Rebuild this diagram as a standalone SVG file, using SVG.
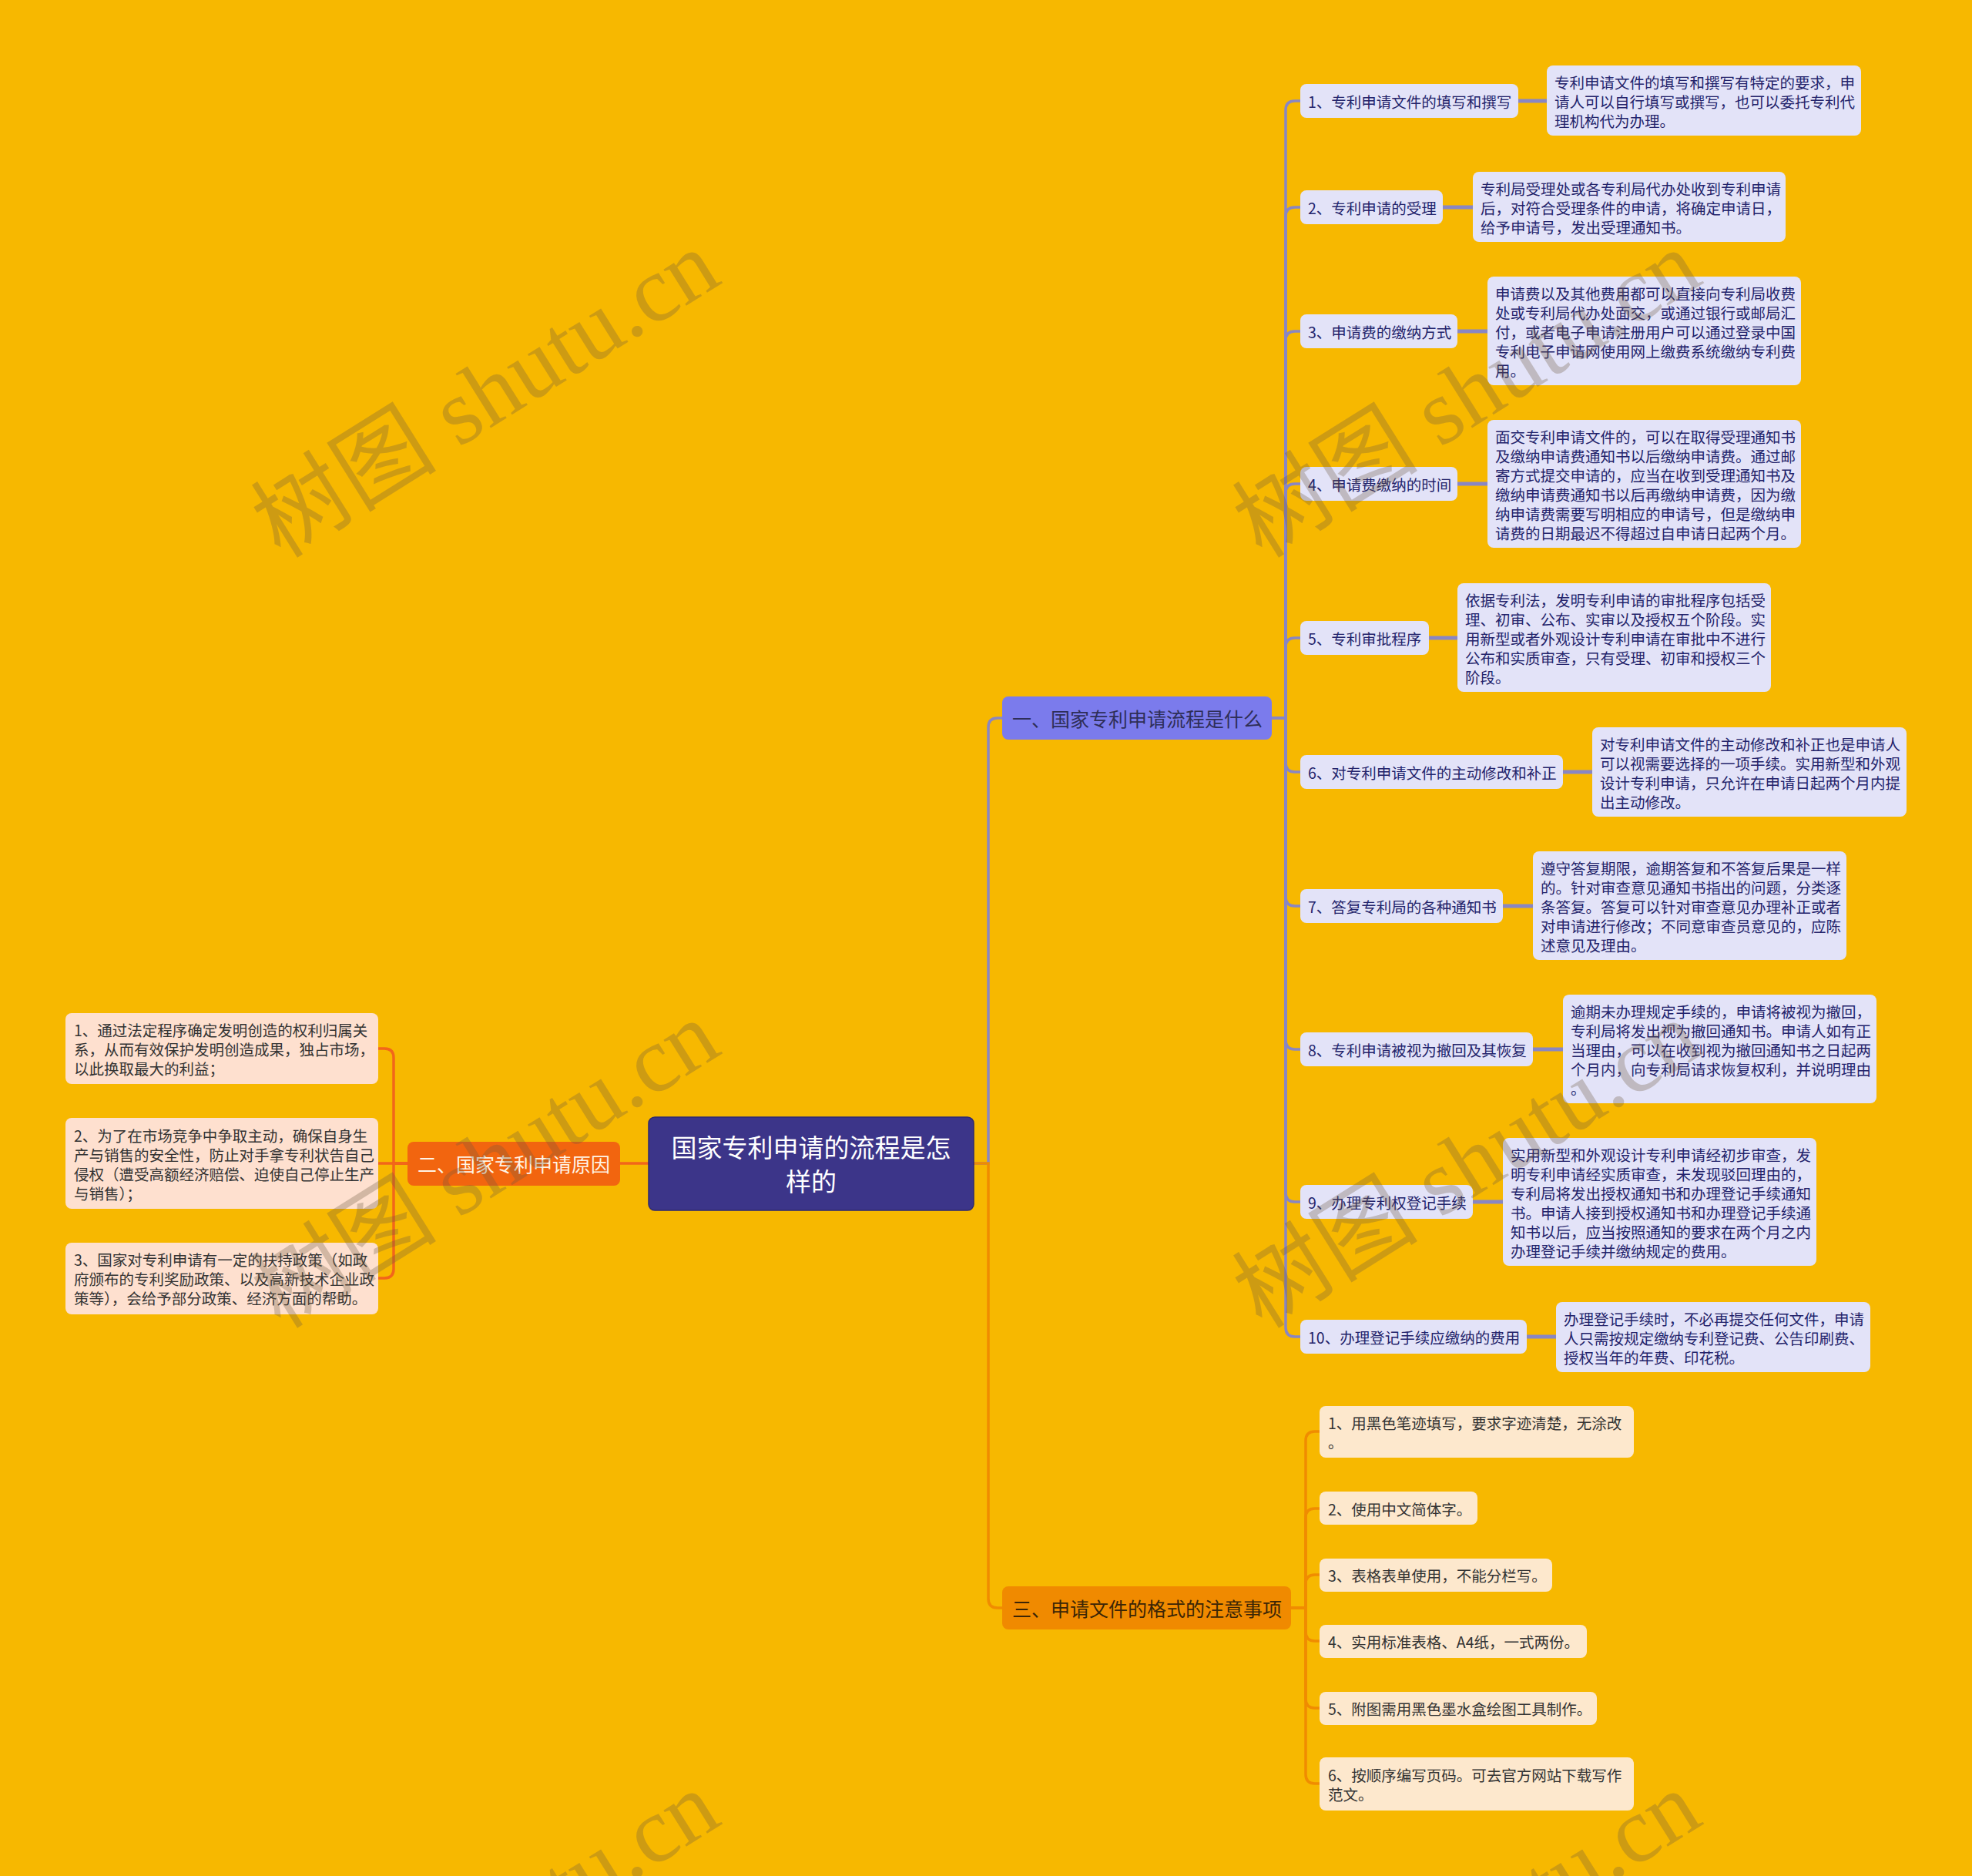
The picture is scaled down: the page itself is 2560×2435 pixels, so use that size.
<svg xmlns="http://www.w3.org/2000/svg" width="2560" height="2435" viewBox="0 0 2560 2435">
<style>
text{font-family:"Noto Sans CJK SC","Noto Sans",sans-serif;dominant-baseline:central}
.t19{font-size:19.5px}
.p{fill:#E3E3F8}
.pt{fill:#23236B}
.l{fill:#FEE0CF}
.lt{fill:#333333}
.c{fill:#FDE8CD}
.ct{fill:#333333}
.cp{fill:none;stroke:#8986C3;stroke-width:3.5;stroke-linecap:round}
.cpd{fill:none;stroke:#8986C3;stroke-width:5}
.co{fill:none;stroke:#F08C00;stroke-width:3.5;stroke-linecap:round}
.cr{fill:none;stroke:#F2661A;stroke-width:3.5;stroke-linecap:round}
.wm{font-family:"Liberation Serif","Noto Sans CJK SC",serif;font-size:121px;fill:#6E5A40;fill-opacity:0.3;dominant-baseline:alphabetic}
</style>
<rect width="2560" height="2435" fill="#F7B800"/>

<g id="connectors">
<path class="cp" d="M1264,1510 H1283 V944 Q1283,932 1295,932 H1301"/>
<path class="co" d="M1264,1510 H1283 V2075 Q1283,2087 1295,2087 H1301"/>
<path class="cr" d="M842,1510 H805"/>
<path class="cp" d="M1651,932 H1669 V143 Q1669,131 1681,131 H1688"/>
<path class="cp" d="M1651,932 H1669 V281 Q1669,269 1681,269 H1688"/>
<path class="cp" d="M1651,932 H1669 V442 Q1669,430 1681,430 H1688"/>
<path class="cp" d="M1651,932 H1669 V640 Q1669,628 1681,628 H1688"/>
<path class="cp" d="M1651,932 H1669 V840 Q1669,828 1681,828 H1688"/>
<path class="cp" d="M1651,932 H1669 V990 Q1669,1002 1681,1002 H1688"/>
<path class="cp" d="M1651,932 H1669 V1164 Q1669,1176 1681,1176 H1688"/>
<path class="cp" d="M1651,932 H1669 V1350 Q1669,1362 1681,1362 H1688"/>
<path class="cp" d="M1651,932 H1669 V1548 Q1669,1560 1681,1560 H1688"/>
<path class="cp" d="M1651,932 H1669 V1723 Q1669,1735 1681,1735 H1688"/>
<path class="cpd" d="M1971,131 H2008"/>
<path class="cpd" d="M1873,269 H1912"/>
<path class="cpd" d="M1892,430 H1931"/>
<path class="cpd" d="M1892,628 H1931"/>
<path class="cpd" d="M1855,828 H1892"/>
<path class="cpd" d="M2029,1002 H2067"/>
<path class="cpd" d="M1951,1176 H1990"/>
<path class="cpd" d="M1990,1362 H2029"/>
<path class="cpd" d="M1912,1560 H1951"/>
<path class="cpd" d="M1982,1735 H2020"/>
<path class="cr" d="M529,1510 H511 V1373 Q511,1361 499,1361 H491"/>
<path class="cr" d="M529,1510 H491"/>
<path class="cr" d="M529,1510 H511 V1647 Q511,1659 499,1659 H491"/>
<path class="co" d="M1676,2087 H1695 V1870 Q1695,1858 1707,1858 H1713"/>
<path class="co" d="M1676,2087 H1695 V1970 Q1695,1958 1707,1958 H1713"/>
<path class="co" d="M1676,2087 H1695 V2056 Q1695,2044 1707,2044 H1713"/>
<path class="co" d="M1676,2087 H1695 V2118 Q1695,2130 1707,2130 H1713"/>
<path class="co" d="M1676,2087 H1695 V2205 Q1695,2217 1707,2217 H1713"/>
<path class="co" d="M1676,2087 H1695 V2303 Q1695,2315 1707,2315 H1713"/>
</g>

<g id="root">
<rect x="842" y="1450" width="422" height="121" rx="8" fill="#3C3589" stroke="#2E2970" stroke-width="1.5"/>
<text x="1053" y="1488" font-size="33" fill="#FFFFFF" text-anchor="middle">国家专利申请的流程是怎</text>
<text x="1053" y="1532" font-size="33" fill="#FFFFFF" text-anchor="middle">样的</text>
</g>

<g id="branch1">
<rect x="1301" y="904" width="350" height="56" rx="8" fill="#7B7BEC"/>
<text x="1314" y="932" font-size="25" fill="#2E2E58">一、国家专利申请流程是什么</text>
</g>
<g id="branch2">
<rect x="529" y="1482" width="276" height="57" rx="8" fill="#F2650F"/>
<text x="542" y="1510" font-size="25" fill="#FFF4E6">二、国家专利申请原因</text>
</g>
<g id="branch3">
<rect x="1301" y="2059" width="375" height="56" rx="8" fill="#F08A00"/>
<text x="1314" y="2087" font-size="25" fill="#3B2506">三、申请文件的格式的注意事项</text>
</g>

<g id="n1-1"><rect class="p" x="1688" y="109" width="283" height="44" rx="8"/><text class="t19 pt" x="1698" y="131">1、专利申请文件的填写和撰写</text></g>
<g id="d1-1"><rect class="p" x="2008" y="85" width="408" height="91" rx="8"/>
<text class="t19 pt" x="2018" y="106">专利申请文件的填写和撰写有特定的要求，申</text>
<text class="t19 pt" x="2018" y="131">请人可以自行填写或撰写，也可以委托专利代</text>
<text class="t19 pt" x="2018" y="156">理机构代为办理。</text></g>

<g id="n1-2"><rect class="p" x="1688" y="247" width="185" height="44" rx="8"/><text class="t19 pt" x="1698" y="269">2、专利申请的受理</text></g>
<g id="d1-2"><rect class="p" x="1912" y="223" width="406" height="91" rx="8"/>
<text class="t19 pt" x="1922" y="244">专利局受理处或各专利局代办处收到专利申请</text>
<text class="t19 pt" x="1922" y="269">后，对符合受理条件的申请，将确定申请日，</text>
<text class="t19 pt" x="1922" y="294">给予申请号，发出受理通知书。</text></g>

<g id="n1-3"><rect class="p" x="1688" y="408" width="204" height="44" rx="8"/><text class="t19 pt" x="1698" y="430">3、申请费的缴纳方式</text></g>
<g id="d1-3"><rect class="p" x="1931" y="359" width="407" height="141" rx="8"/>
<text class="t19 pt" x="1941" y="380">申请费以及其他费用都可以直接向专利局收费</text>
<text class="t19 pt" x="1941" y="405">处或专利局代办处面交，或通过银行或邮局汇</text>
<text class="t19 pt" x="1941" y="430">付，或者电子申请注册用户可以通过登录中国</text>
<text class="t19 pt" x="1941" y="455">专利电子申请网使用网上缴费系统缴纳专利费</text>
<text class="t19 pt" x="1941" y="480">用。</text></g>

<g id="n1-4"><rect class="p" x="1688" y="606" width="204" height="44" rx="8"/><text class="t19 pt" x="1698" y="628">4、申请费缴纳的时间</text></g>
<g id="d1-4"><rect class="p" x="1931" y="545" width="407" height="166" rx="8"/>
<text class="t19 pt" x="1941" y="566">面交专利申请文件的，可以在取得受理通知书</text>
<text class="t19 pt" x="1941" y="591">及缴纳申请费通知书以后缴纳申请费。通过邮</text>
<text class="t19 pt" x="1941" y="616">寄方式提交申请的，应当在收到受理通知书及</text>
<text class="t19 pt" x="1941" y="641">缴纳申请费通知书以后再缴纳申请费，因为缴</text>
<text class="t19 pt" x="1941" y="666">纳申请费需要写明相应的申请号，但是缴纳申</text>
<text class="t19 pt" x="1941" y="691">请费的日期最迟不得超过自申请日起两个月。</text></g>

<g id="n1-5"><rect class="p" x="1688" y="806" width="167" height="44" rx="8"/><text class="t19 pt" x="1698" y="828">5、专利审批程序</text></g>
<g id="d1-5"><rect class="p" x="1892" y="757" width="407" height="141" rx="8"/>
<text class="t19 pt" x="1902" y="778">依据专利法，发明专利申请的审批程序包括受</text>
<text class="t19 pt" x="1902" y="803">理、初审、公布、实审以及授权五个阶段。实</text>
<text class="t19 pt" x="1902" y="828">用新型或者外观设计专利申请在审批中不进行</text>
<text class="t19 pt" x="1902" y="853">公布和实质审查，只有受理、初审和授权三个</text>
<text class="t19 pt" x="1902" y="878">阶段。</text></g>

<g id="n1-6"><rect class="p" x="1688" y="980" width="341" height="44" rx="8"/><text class="t19 pt" x="1698" y="1002">6、对专利申请文件的主动修改和补正</text></g>
<g id="d1-6"><rect class="p" x="2067" y="944" width="408" height="116" rx="8"/>
<text class="t19 pt" x="2077" y="965">对专利申请文件的主动修改和补正也是申请人</text>
<text class="t19 pt" x="2077" y="990">可以视需要选择的一项手续。实用新型和外观</text>
<text class="t19 pt" x="2077" y="1015">设计专利申请，只允许在申请日起两个月内提</text>
<text class="t19 pt" x="2077" y="1040">出主动修改。</text></g>

<g id="n1-7"><rect class="p" x="1688" y="1154" width="263" height="44" rx="8"/><text class="t19 pt" x="1698" y="1176">7、答复专利局的各种通知书</text></g>
<g id="d1-7"><rect class="p" x="1990" y="1105" width="407" height="141" rx="8"/>
<text class="t19 pt" x="2000" y="1126">遵守答复期限，逾期答复和不答复后果是一样</text>
<text class="t19 pt" x="2000" y="1151">的。针对审查意见通知书指出的问题，分类逐</text>
<text class="t19 pt" x="2000" y="1176">条答复。答复可以针对审查意见办理补正或者</text>
<text class="t19 pt" x="2000" y="1201">对申请进行修改；不同意审查员意见的，应陈</text>
<text class="t19 pt" x="2000" y="1226">述意见及理由。</text></g>

<g id="n1-8"><rect class="p" x="1688" y="1340" width="302" height="44" rx="8"/><text class="t19 pt" x="1698" y="1362">8、专利申请被视为撤回及其恢复</text></g>
<g id="d1-8"><rect class="p" x="2029" y="1291" width="407" height="141" rx="8"/>
<text class="t19 pt" x="2039" y="1312">逾期未办理规定手续的，申请将被视为撤回，</text>
<text class="t19 pt" x="2039" y="1337">专利局将发出视为撤回通知书。申请人如有正</text>
<text class="t19 pt" x="2039" y="1362">当理由，可以在收到视为撤回通知书之日起两</text>
<text class="t19 pt" x="2039" y="1387">个月内，向专利局请求恢复权利，并说明理由</text>
<text class="t19 pt" x="2039" y="1412">。</text></g>

<g id="n1-9"><rect class="p" x="1688" y="1538" width="224" height="44" rx="8"/><text class="t19 pt" x="1698" y="1560">9、办理专利权登记手续</text></g>
<g id="d1-9"><rect class="p" x="1951" y="1477" width="407" height="166" rx="8"/>
<text class="t19 pt" x="1961" y="1498">实用新型和外观设计专利申请经初步审查，发</text>
<text class="t19 pt" x="1961" y="1523">明专利申请经实质审查，未发现驳回理由的，</text>
<text class="t19 pt" x="1961" y="1548">专利局将发出授权通知书和办理登记手续通知</text>
<text class="t19 pt" x="1961" y="1573">书。申请人接到授权通知书和办理登记手续通</text>
<text class="t19 pt" x="1961" y="1598">知书以后，应当按照通知的要求在两个月之内</text>
<text class="t19 pt" x="1961" y="1623">办理登记手续并缴纳规定的费用。</text></g>

<g id="n1-10"><rect class="p" x="1688" y="1713" width="294" height="44" rx="8"/><text class="t19 pt" x="1698" y="1735">10、办理登记手续应缴纳的费用</text></g>
<g id="d1-10"><rect class="p" x="2020" y="1690" width="408" height="91" rx="8"/>
<text class="t19 pt" x="2030" y="1711">办理登记手续时，不必再提交任何文件，申请</text>
<text class="t19 pt" x="2030" y="1736">人只需按规定缴纳专利登记费、公告印刷费、</text>
<text class="t19 pt" x="2030" y="1761">授权当年的年费、印花税。</text></g>

<g id="n2-1"><rect class="l" x="85" y="1315" width="406" height="92" rx="8"/>
<text class="t19 lt" x="96" y="1336">1、通过法定程序确定发明创造的权利归属关</text>
<text class="t19 lt" x="96" y="1361">系，从而有效保护发明创造成果，独占市场，</text>
<text class="t19 lt" x="96" y="1386">以此换取最大的利益；</text></g>
<g id="n2-2"><rect class="l" x="85" y="1451" width="406" height="118" rx="8"/>
<text class="t19 lt" x="96" y="1473">2、为了在市场竞争中争取主动，确保自身生</text>
<text class="t19 lt" x="96" y="1498">产与销售的安全性，防止对手拿专利状告自己</text>
<text class="t19 lt" x="96" y="1523">侵权（遭受高额经济赔偿、迫使自己停止生产</text>
<text class="t19 lt" x="96" y="1548">与销售）；</text></g>
<g id="n2-3"><rect class="l" x="85" y="1613" width="406" height="93" rx="8"/>
<text class="t19 lt" x="96" y="1634">3、国家对专利申请有一定的扶持政策（如政</text>
<text class="t19 lt" x="96" y="1659">府颁布的专利奖励政策、以及高新技术企业政</text>
<text class="t19 lt" x="96" y="1684">策等），会给予部分政策、经济方面的帮助。</text></g>

<g id="n3-1"><rect class="c" x="1713" y="1825" width="408" height="67" rx="8"/>
<text class="t19 ct" x="1724" y="1846">1、用黑色笔迹填写，要求字迹清楚，无涂改</text>
<text class="t19 ct" x="1724" y="1871">。</text></g>
<g id="n3-2"><rect class="c" x="1713" y="1936" width="205" height="43" rx="8"/><text class="t19 ct" x="1724" y="1958">2、使用中文简体字。</text></g>
<g id="n3-3"><rect class="c" x="1713" y="2023" width="302" height="43" rx="8"/><text class="t19 ct" x="1724" y="2044">3、表格表单使用，不能分栏写。</text></g>
<g id="n3-4"><rect class="c" x="1713" y="2109" width="347" height="43" rx="8"/><text class="t19 ct" x="1724" y="2130">4、实用标准表格、A4纸，一式两份。</text></g>
<g id="n3-5"><rect class="c" x="1713" y="2196" width="360" height="43" rx="8"/><text class="t19 ct" x="1724" y="2217">5、附图需用黑色墨水盒绘图工具制作。</text></g>
<g id="n3-6"><rect class="c" x="1713" y="2281" width="408" height="69" rx="8"/>
<text class="t19 ct" x="1724" y="2303">6、按顺序编写页码。可去官方网站下载写作</text>
<text class="t19 ct" x="1724" y="2328">范文。</text></g>

<g id="watermarks">
<text class="wm" text-anchor="middle" transform="translate(652,546) rotate(-32)">树图 shutu.cn</text>
<text class="wm" text-anchor="middle" transform="translate(1926,546) rotate(-32)">树图 shutu.cn</text>
<text class="wm" text-anchor="middle" transform="translate(652,1546) rotate(-32)">树图 shutu.cn</text>
<text class="wm" text-anchor="middle" transform="translate(1926,1546) rotate(-32)">树图 shutu.cn</text>
<text class="wm" text-anchor="middle" transform="translate(652,2546) rotate(-32)">树图 shutu.cn</text>
<text class="wm" text-anchor="middle" transform="translate(1926,2546) rotate(-32)">树图 shutu.cn</text>
</g>
</svg>
